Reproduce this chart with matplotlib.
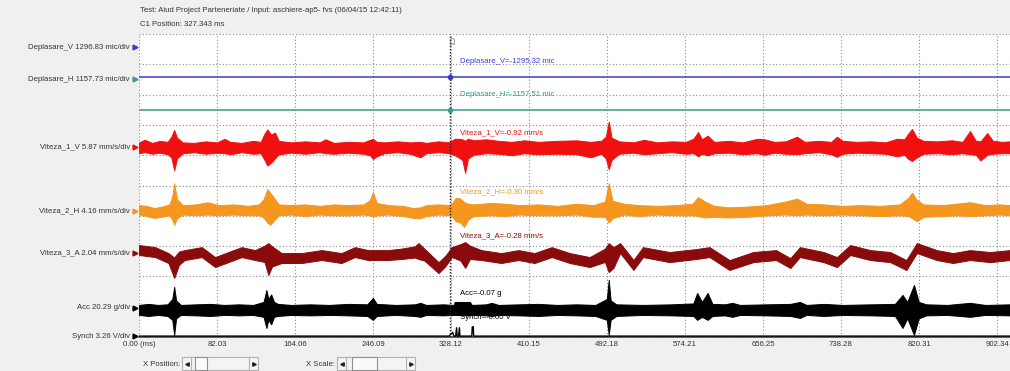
import numpy as np
from matplotlib import pyplot as plt
from matplotlib import transforms as mtransforms
from matplotlib.patches import Rectangle

plt.rcParams['font.family'] = ['Liberation Sans', 'DejaVu Sans']
fs = 5.6

title = 'Test: Aiud Project Parteneriate / Input: aschiere-ap5- fvs (06/04/15 12:42:11)'
cursor_ms = 327.343

# channel name, scale per div, unit, colour, cursor reading
names = ['Deplasare_V', 'Deplasare_H', 'Viteza_1_V', 'Viteza_2_H', 'Viteza_3_A', 'Acc', 'Synch']
scales = [1296.83, 1157.73, 5.87, 4.16, 2.04, 20.29, 3.26]
units = ['mic', 'mic', 'mm/s', 'mm/s', 'mm/s', 'g', 'V']
colors = ['#3a3ad6', '#3a9a8c', '#f01010', '#f5961e', '#8a0b0b', '#000000', '#000000']
readings = ['-1295.32', '-1157.51', '-0.92', '-0.30', '-0.28', '-0.07', '-0.00']

xticks = [0, 82.03, 164.06, 246.09, 328.12, 410.15, 492.18, 574.21, 656.25, 738.28, 820.31, 902.34]

# displacement channels are flat
depl_v = -1295.32
depl_h = -1157.51

# envelopes (ms, upper, lower)
v1_t = [0, 6, 14, 22, 30, 34, 37, 40, 46, 58, 70, 82, 90, 96, 108, 120, 128, 132, 135, 139, 143, 147,
        160, 175, 190, 196, 205, 220, 236, 243, 246, 250, 258, 272, 285, 296, 302, 315, 326, 332, 336,
        340, 343, 346, 352, 365, 378, 392, 405, 420, 440, 460, 475, 486, 491, 494, 497, 505, 520, 531,
        545, 560, 575, 583, 588, 592, 598, 605, 620, 635, 650, 658, 668, 680, 692, 700, 715, 728, 734,
        740, 755, 770, 785, 797, 805, 809, 813, 818, 825, 840, 855, 866, 874, 880, 885, 892, 898, 908, 916]
v1_hi = [0.9, 1.4, 0.8, 1.2, 1.0, 2.0, 3.3, 1.8, 0.9, 0.8, 1.1, 0.9, 1.6, 1.0, 0.8, 1.2, 1.0, 2.6, 3.4,
         2.4, 2.8, 1.2, 0.9, 1.1, 0.9, 1.5, 0.8, 1.0, 0.9, 1.4, 1.6, 1.0, 0.9, 1.1, 0.9, 1.0, 0.8, 1.1,
         0.9, 1.6, 1.6, 1.5, 1.2, 1.6, 1.3, 1.5, 1.2, 1.0, 1.3, 1.0, 1.2, 1.3, 1.0, 1.2, 2.0, 4.9, 1.8,
         1.1, 0.9, 1.4, 0.9, 1.1, 1.0, 1.6, 2.9, 1.5, 2.2, 1.0, 1.2, 0.9, 1.6, 1.5, 1.0, 1.1, 2.0, 1.0,
         1.2, 1.0, 2.0, 1.2, 1.0, 1.1, 0.9, 1.6, 1.5, 2.6, 3.5, 1.8, 1.2, 1.1, 1.3, 1.0, 3.1, 1.2, 1.1,
         2.7, 1.2, 1.0, 1.1]
v1_lo = [-1.2, -1.0, -1.3, -1.1, -1.4, -2.0, -4.5, -2.2, -1.2, -1.0, -1.3, -1.1, -1.2, -1.4, -1.0, -1.3,
         -1.2, -2.5, -3.6, -3.0, -2.2, -1.4, -1.1, -1.3, -1.0, -1.2, -1.3, -1.1, -1.3, -1.6, -2.3, -1.8,
         -1.2, -1.0, -1.3, -2.0, -1.2, -1.0, -1.2, -1.6, -2.0, -2.5, -5.0, -2.2, -1.5, -1.2, -1.3, -1.6,
         -1.2, -1.4, -1.3, -1.4, -2.0, -1.3, -2.2, -4.3, -2.5, -1.3, -1.1, -1.4, -1.2, -1.0, -1.3, -1.2,
         -1.8, -1.3, -1.6, -1.2, -1.1, -1.4, -1.2, -1.5, -1.1, -1.3, -1.4, -1.2, -1.0, -1.4, -1.9, -1.3,
         -1.1, -1.2, -1.3, -1.8, -1.5, -2.3, -2.7, -2.0, -1.3, -1.2, -1.4, -1.2, -1.4, -1.5, -2.6, -1.5,
         -1.3, -1.2, -1.2]

v2_t = [0, 8, 16, 24, 32, 35, 37, 40, 46, 60, 72, 84, 100, 115, 126, 131, 135, 138, 142, 147, 160, 175,
        190, 205, 220, 236, 243, 246, 250, 262, 278, 288, 296, 302, 315, 328, 333, 338, 342, 346, 352,
        370, 385, 400, 420, 440, 460, 478, 490, 494, 498, 510, 525, 545, 565, 582, 588, 595, 605, 620,
        640, 660, 680, 692, 702, 720, 740, 760, 780, 800, 809, 813, 818, 825, 845, 860, 874, 890, 905, 916]
v2_hi = [0.8, 0.7, 0.4, 0.6, 0.9, 2.0, 3.8, 1.6, 0.8, 0.9, 1.2, 0.8, 0.9, 0.7, 0.9, 1.6, 3.0, 2.5, 1.8,
         0.9, 0.8, 0.9, 0.7, 0.9, 0.8, 0.9, 1.5, 2.6, 1.1, 0.8, 0.7, 0.4, 0.5, 0.8, 0.9, 0.8, 1.8, 1.7,
         1.2, 1.0, 0.9, 1.1, 1.0, 0.8, 0.9, 0.7, 1.0, 0.8, 1.3, 3.8, 1.4, 1.0, 0.8, 0.7, 0.8, 1.0, 1.9,
         1.3, 0.7, 0.5, 0.6, 0.8, 1.3, 1.7, 1.0, 0.9, 0.7, 0.8, 0.7, 0.9, 1.8, 2.5, 1.5, 0.9, 0.8, 1.0,
         1.2, 0.8, 0.9, 0.8]
v2_lo = [-0.5, -0.7, -0.95, -0.8, -0.6, -1.2, -1.9, -1.0, -0.5, -0.6, -0.5, -0.6, -0.5, -0.6, -0.6, -0.9,
         -1.6, -1.9, -1.3, -0.6, -0.5, -0.7, -0.5, -0.6, -0.6, -0.5, -0.6, -0.8, -0.6, -0.5, -0.7, -0.95,
         -1.0, -0.7, -0.5, -0.6, -1.4, -1.6, -2.2, -1.2, -0.7, -0.6, -0.7, -0.5, -0.6, -0.6, -0.5, -0.8,
         -0.8, -1.6, -1.0, -0.5, -0.7, -0.5, -0.6, -0.6, -0.7, -0.9, -0.8, -0.9, -0.8, -0.6, -0.5, -0.6,
         -0.5, -0.6, -0.5, -0.6, -0.7, -0.6, -0.7, -1.0, -1.4, -0.8, -0.7, -0.6, -0.7, -0.6, -0.5, -0.6]

v3_t = [0, 17, 31, 37, 42, 48, 66, 80, 94, 108, 122, 132, 136, 140, 150, 171, 192, 213, 227, 241, 262,
        276, 290, 294, 300, 315, 322, 329, 338, 343, 348, 360, 381, 399, 416, 434, 453, 474, 490, 494,
        499, 506, 520, 530, 558, 586, 600, 621, 646, 670, 685, 695, 720, 734, 748, 769, 790, 807, 818,
        839, 856, 874, 895, 916]
v3_hi = [0.54, 0.40, 0.0, -0.3, 0.1, 0.2, 0.40, -0.27, 0.07, 0.40, 0.20, 0.5, 0.67, 0.45, 0.0, 0.0, 0.2,
         0.0, 0.40, 0.20, 0.20, 0.3, 0.45, 0.67, 0.3, -0.61, -0.2, 0.40, 0.6, 0.74, 0.5, 0.2, 0.0, 0.2,
         0.0, 0.40, 0.0, -0.27, 0.3, 0.67, 0.4, 0.67, -0.47, 0.40, 0.07, 0.27, 0.40, -0.47, 0.07, 0.2,
         -0.34, 0.40, 0.07, -0.27, 0.54, 0.2, 0.07, -0.47, 0.67, 0.2, 0.0, 0.2, 0.07, 0.2]
v3_lo = [-0.13, -0.27, -0.67, -1.68, -0.8, -0.47, -0.27, -0.94, -0.61, -0.27, -0.47, -0.6, -1.48, -0.9,
         -0.67, -0.67, -0.47, -0.67, -0.27, -0.47, -0.47, -0.4, -0.3, -0.4, -0.5, -1.35, -0.9, -0.27,
         -0.5, -1.0, -0.4, -0.47, -0.67, -0.47, -0.67, -0.27, -0.67, -0.94, -0.6, -1.28, -1.0, 0.0,
         -1.14, -0.27, -0.61, -0.4, -0.27, -1.14, -0.61, -0.47, -1.01, -0.27, -0.61, -0.94, -0.13,
         -0.47, -0.61, -1.14, 0.0, -0.47, -0.67, -0.47, -0.61, -0.47]

acc_t = [0, 10, 20, 30, 35, 37, 39, 44, 60, 75, 90, 105, 120, 131, 134, 136, 139, 142, 146, 160, 180,
         200, 220, 240, 246, 250, 270, 290, 296, 302, 320, 331, 332, 348, 350, 365, 371, 378, 400, 420,
         440, 460, 480, 492, 494, 496, 502, 530, 560, 583, 587, 592, 598, 603, 616, 624, 632, 660, 685,
         695, 702, 720, 740, 770, 795, 803, 808, 815, 820, 828, 850, 874, 890, 916]
acc_hi = [2.0, 2.7, 2.0, 2.4, 6.0, 14.1, 5.0, 2.0, 2.4, 2.7, 2.0, 2.4, 2.0, 4.0, 12.0, 6.0, 9.0, 4.0, 2.7,
          2.0, 2.4, 2.0, 2.7, 2.4, 6.7, 2.7, 2.0, 2.4, 3.4, 2.0, 2.4, 2.0, 4.0, 4.0, 2.0, 2.4, 3.4, 2.0,
          2.4, 2.7, 2.0, 2.4, 2.0, 6.0, 18.8, 5.0, 2.4, 2.0, 2.4, 3.0, 10.0, 4.0, 10.0, 2.7, 2.4, 3.4,
          2.0, 2.4, 2.7, 4.0, 2.0, 2.7, 2.0, 2.4, 2.7, 8.7, 4.0, 15.4, 4.0, 2.4, 2.0, 3.4, 2.0, 2.4]
acc_lo = [-4.7, -5.4, -4.7, -5.4, -8.0, -18.1, -7.0, -4.7, -5.0, -5.4, -4.7, -5.0, -4.7, -6.0, -13.4,
          -8.0, -11.0, -6.0, -5.4, -4.7, -5.0, -4.7, -5.0, -5.4, -8.0, -5.4, -4.7, -5.4, -6.0, -4.7,
          -5.0, -4.7, -4.7, -5.0, -4.7, -5.0, -5.4, -4.7, -5.0, -5.4, -4.7, -5.0, -5.4, -8.0, -18.1, -8.0,
          -5.4, -4.7, -5.0, -5.4, -8.0, -6.0, -8.0, -5.4, -5.0, -6.0, -4.7, -5.0, -5.4, -6.7, -4.7, -5.4,
          -4.7, -5.0, -5.4, -13.4, -7.0, -18.1, -7.0, -5.0, -4.7, -6.0, -4.7, -5.0]

synch_t = [0, 326, 330, 331, 333, 334, 334.5, 336, 337, 337.5, 350, 350.5, 351.5, 352, 916]
synch_v = [0, 0, 0.4, 0, 0, 0.9, 0, 0, 0.9, 0, 0, 1.0, 1.0, 0, 0]

# vertical layout (divisions from the bottom)
zero_div = [9.57, 8.50, 6.27, 4.16, 2.77, 0.96, 0.03]
read_div = [9.08, 7.99, 6.73, 4.79, 3.33, 1.45, 0.63]

fig = plt.figure(figsize=(10.1, 3.71), dpi=100, facecolor='#f0f0f0')
ax = fig.add_axes([139 / 1010, 34 / 371, 871 / 1010, 303 / 371])
ax.set_facecolor('white')
ax.set_xlim(0, 916)
ax.set_ylim(0, 10)

ax.set_xticks(xticks)
ax.set_xticklabels(['0.00 (ms)'] + ['%.2f' % x for x in xticks[1:]], fontsize=fs, color='#333333')
ax.set_yticks(range(0, 11))
ax.set_yticklabels([])
ax.tick_params(length=0, pad=3)
ax.grid(True, color='#8a8a8a', linestyle=(0, (1, 2)), linewidth=0.8)
ax.set_axisbelow(True)
for s in ['top', 'left', 'right']:
    ax.spines[s].set_visible(False)
ax.spines['bottom'].set_color('#444444')
ax.spines['bottom'].set_linewidth(1.2)


def to_div(v, i):
    return zero_div[i] + np.asarray(v, dtype=float) / scales[i]


# flat displacement traces
ax.axhline(to_div(depl_v, 0), color=colors[0], lw=1.1, zorder=3)
ax.axhline(to_div(depl_h, 1), color=colors[1], lw=1.1, zorder=3)

# noisy traces as envelopes
bands = [(v1_t, v1_hi, v1_lo, 2), (v2_t, v2_hi, v2_lo, 3), (v3_t, v3_hi, v3_lo, 4), (acc_t, acc_hi, acc_lo, 5)]
for t, hi, lo, i in bands:
    ax.fill_between(t, to_div(lo, i), to_div(hi, i), color=colors[i], edgecolor=colors[i], lw=0.7, zorder=3)

ax.plot(synch_t, to_div(synch_v, 6), color='black', lw=1.0, zorder=3)

# cursor
ax.axvline(cursor_ms, color='#222222', linestyle=(0, (1, 1.2)), lw=1.0, zorder=4)
ax.text(cursor_ms, 9.75, 'C1', rotation=270, fontsize=fs - 0.6, color='#555555', ha='center', va='center', zorder=5)
ax.plot([cursor_ms], [to_div(depl_v, 0)], 'o', color=colors[0], ms=3, zorder=5)
ax.plot([cursor_ms], [to_div(depl_h, 1)], 'o', color=colors[1], ms=3, zorder=5)
for i in range(7):
    ax.text(cursor_ms + 10, read_div[i], '%s=%s %s' % (names[i], readings[i], units[i]),
            fontsize=fs, color=colors[i], ha='left', va='center', zorder=5)

# channel labels on the left
lab = mtransforms.blended_transform_factory(ax.transAxes, ax.transData)
for i in range(7):
    ax.text(-9 / 871, zero_div[i], '%s %.2f %s/div' % (names[i], scales[i], units[i]),
            transform=lab, fontsize=fs, color='#333333', ha='right', va='center')
    ax.plot([-4 / 871], [zero_div[i]], marker='>', color=colors[i], ms=3.5, transform=lab, clip_on=False)

# header and scroll controls, in pixel coordinates
ov = fig.add_axes([0, 0, 1, 1], zorder=-1)
ov.set_xlim(0, 1010)
ov.set_ylim(371, 0)
ov.axis('off')
ov.patch.set_alpha(0)
ov.text(140, 10, title, fontsize=fs, color='#333333', va='center')
ov.text(140, 24, 'C1 Position: %.3f ms' % cursor_ms, fontsize=fs, color='#333333', va='center')

for label, x0, x1, thumb in [('X Position:', 182, 258, (195, 207)), ('X Scale:', 337, 415, (352, 377))]:
    ov.text(x0 - 2, 364, label, fontsize=fs, color='#333333', ha='right', va='center')
    ov.add_patch(Rectangle((x0, 357), x1 - x0, 13, fc='#f4f4f4', ec='#b0b0b0', lw=0.8))
    ov.add_patch(Rectangle((thumb[0], 357), thumb[1] - thumb[0], 13, fc='#fafafa', ec='#909090', lw=0.8))
    ov.plot([x0 + 9, x0 + 9], [357, 370], color='#b0b0b0', lw=0.8)
    ov.plot([x1 - 9, x1 - 9], [357, 370], color='#b0b0b0', lw=0.8)
    ov.plot([x0 + 4.5], [363.5], marker='<', color='#222222', ms=2.5)
    ov.plot([x1 - 4.5], [363.5], marker='>', color='#222222', ms=2.5)

fig.savefig('out.png', dpi=100, facecolor=fig.get_facecolor())
